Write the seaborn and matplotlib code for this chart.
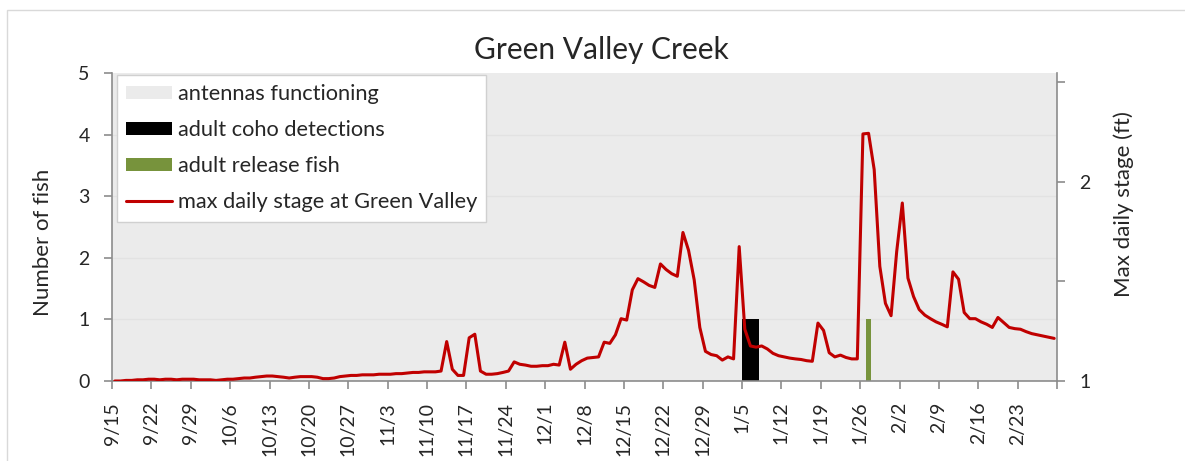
import pandas as pd
import seaborn as sns
import matplotlib.pyplot as plt
from matplotlib.patches import Patch, Rectangle
from matplotlib.lines import Line2D

# daily max stage (ft), one value per day starting 9/15
start_date = '2018-09-15'
stage_ft = [
    1.000, 1.000, 1.003, 1.003, 1.006, 1.006, 1.009,   # 9/15
    1.009, 1.006, 1.009, 1.009, 1.006, 1.009, 1.009,   # 9/22
    1.009, 1.006, 1.006, 1.006, 1.003, 1.006, 1.009,   # 9/29
    1.009, 1.012, 1.015, 1.015, 1.019, 1.022, 1.025,   # 10/6
    1.025, 1.022, 1.019, 1.015, 1.019, 1.022, 1.022,   # 10/13
    1.022, 1.019, 1.012, 1.012, 1.015, 1.022, 1.025,   # 10/20
    1.028, 1.028, 1.031, 1.031, 1.031, 1.034, 1.034,   # 10/27
    1.034, 1.037, 1.037, 1.040, 1.043, 1.043, 1.046,   # 11/3
    1.046, 1.046, 1.050, 1.198, 1.059, 1.028, 1.028,   # 11/10
    1.217, 1.235, 1.050, 1.034, 1.034, 1.037, 1.043,   # 11/17
    1.050, 1.096, 1.084, 1.080, 1.074, 1.074, 1.077,   # 11/24
    1.077, 1.084, 1.080, 1.195, 1.059, 1.084, 1.102,   # 12/1
    1.115, 1.118, 1.121, 1.195, 1.189, 1.232, 1.313,   # 12/8
    1.306, 1.458, 1.514, 1.498, 1.480, 1.470, 1.588,   # 12/15
    1.560, 1.539, 1.526, 1.746, 1.656, 1.508, 1.269,   # 12/22
    1.149, 1.133, 1.127, 1.105, 1.121, 1.111, 1.675,   # 12/29
    1.260, 1.176, 1.170, 1.176, 1.161, 1.139, 1.127,   # 1/5
    1.121, 1.115, 1.111, 1.108, 1.102, 1.099, 1.291,   # 1/12
    1.254, 1.142, 1.121, 1.130, 1.118, 1.111, 1.111,   # 1/19
    2.241, 2.244, 2.062, 1.576, 1.390, 1.328, 1.650,   # 1/26
    1.894, 1.517, 1.424, 1.359, 1.331, 1.313, 1.297,   # 2/2
    1.285, 1.272, 1.548, 1.511, 1.344, 1.313, 1.313,   # 2/9
    1.297, 1.285, 1.269, 1.319, 1.294, 1.269, 1.263,   # 2/16
    1.260, 1.248, 1.238, 1.232, 1.226, 1.220, 1.214,   # 2/23
]

coho_dates = ['2019-01-05', '2019-01-06', '2019-01-07']
coho_counts = [1, 1, 1]
release_dates = ['2019-01-27']
release_counts = [1]
antenna_level = 5

legend_labels = ['antennas functioning', 'adult coho detections',
                 'adult release fish', 'max daily stage at Green Valley']

dates = pd.date_range(start_date, periods=len(stage_ft), freq='D')
df = pd.DataFrame({'date': dates + pd.Timedelta(hours=12), 'stage': stage_ft})

sns.set_theme(style='white')
plt.rcParams['font.family'] = ['Lato', 'DejaVu Sans']

grey_bg = '#EBEBEB'
axis_grey = '#8C8C8C'
green = '#77933C'
red = '#C00000'

W, H = 1185, 461
fig = plt.figure(figsize=(W / 100, H / 100), dpi=100)
ax = fig.add_axes([112 / W, 1 - 381 / H, 945 / W, 308 / H])
ax2 = ax.twinx()

# bars (days occupy [d, d+1])
ax.bar(dates, [antenna_level] * len(dates), width=1, align='edge',
       color=grey_bg, linewidth=0, zorder=0.5)
for y in range(1, 5):
    ax.axhline(y, color='#E2E2E2', lw=1, zorder=0.8)
ax.bar(pd.to_datetime(coho_dates), coho_counts, width=1, align='edge',
       color='black', linewidth=0, zorder=1)
ax.bar(pd.to_datetime(release_dates), release_counts, width=1, align='edge',
       color=green, linewidth=0, zorder=1)

sns.lineplot(data=df, x='date', y='stage', ax=ax2, color=red, lw=2.2)

xmin = dates[0]
xmax = dates[-1] + pd.Timedelta(days=1)
ax.set_xlim(xmin, xmax)
ax2.set_xlim(xmin, xmax)
ax.set_ylim(0, 5)
ax.set_yticks(range(0, 6))
ax2.set_ylim(1, 2.547)
ax2.set_yticks([1, 2])
ax2.set_yticklabels(['1', '2'])
ax2.set_yticks([1.5, 2.5], minor=True)

weeks = pd.date_range(start_date, xmax, freq='7D')
ax.set_xticks(weeks)
ax.set_xticklabels([f'{d.month}/{d.day}' if d < dates[-1] else '' for d in weeks],
                   rotation=90)

for s in ['top', 'right']:
    ax.spines[s].set_visible(False)
for s in ['top', 'left', 'bottom']:
    ax2.spines[s].set_visible(False)
for sp in [ax.spines['left'], ax.spines['bottom'], ax2.spines['right']]:
    sp.set_color(axis_grey)
    sp.set_linewidth(1.2)

ax.tick_params(axis='y', direction='out', length=6, width=1.2, color=axis_grey,
               labelsize=14, pad=10, left=True)
ax.tick_params(axis='x', direction='out', length=6, width=1.2, color=axis_grey,
               labelsize=14, pad=9, bottom=True)
ax2.tick_params(axis='y', which='both', direction='out', length=6, width=1.2,
                color=axis_grey, labelsize=14, pad=10, right=True)
ax.set_xlabel('')
ax.set_ylabel('')
ax2.set_xlabel('')
ax2.set_ylabel('')

fig.text(43 / W, 1 - 242 / H, 'Number of fish', rotation=90,
         ha='center', va='center', fontsize=16)
fig.text(1124 / W, 1 - 204 / H, 'Max daily stage (ft)', rotation=90,
         ha='center', va='center', fontsize=16)
fig.text(601 / W, 1 - 50 / H, 'Green Valley Creek', ha='center', va='center',
         fontsize=21.5)

handles = [Patch(facecolor=grey_bg, edgecolor='none'),
           Patch(facecolor='black', edgecolor='none'),
           Patch(facecolor=green, edgecolor='none'),
           Line2D([], [], color=red, lw=2.2)]
leg = ax2.legend(handles, legend_labels, loc='upper left',
                 bbox_to_anchor=(0.005, 0.994), borderaxespad=0,
                 fontsize=15.7, frameon=True, fancybox=False,
                 handlelength=2.1, handleheight=0.55, handletextpad=0.28,
                 labelspacing=0.74, borderpad=0.42)
leg.get_frame().set_edgecolor('#D0D0D0')
leg.get_frame().set_facecolor('white')
leg.get_frame().set_alpha(1)

fig.patches.append(Rectangle((7 / W, -0.05), 1.1, 451 / H + 0.05,
                             transform=fig.transFigure, fill=False,
                             edgecolor='#D9D9D9', lw=1))

fig.savefig('out.png', dpi=100)
